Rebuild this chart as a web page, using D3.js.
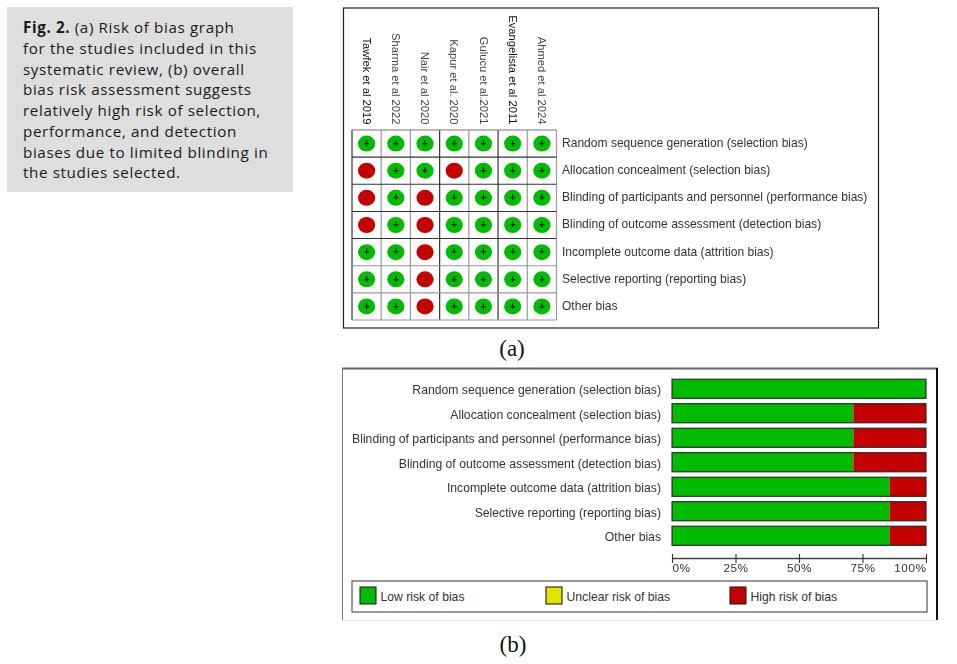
<!DOCTYPE html>
<html><head><meta charset="utf-8">
<script src="https://cdn.jsdelivr.net/npm/d3@7"></script>
<style>
html,body{margin:0;padding:0;background:#fff}
svg{display:block}
text{font-family:"Liberation Sans",Arial,sans-serif;fill:#333}
.cap text{font-family:"Open Sans",sans-serif;fill:#1a1a1a;font-size:15.2px;letter-spacing:0.62px}
.soft{filter:blur(0.3px)}
</style></head><body>
<svg id="c" width="957" height="664"></svg>
<script>
const studies=["Tawfek et al 2019","Sharma et al 2022","Nair et al 2020","Kapur et al. 2020","Gulucu et al.2021","Evangelista et al 2011","Ahmed et al 2024"];
const domains=["Random sequence generation (selection bias)","Allocation concealment (selection bias)","Blinding of participants and personnel (performance bias)","Blinding of outcome assessment (detection bias)","Incomplete outcome data (attrition bias)","Selective reporting (reporting bias)","Other bias"];
const judgementsTawfek=["+","-","-","-","+","+","+"];
const judgementsSharma=["+","+","+","+","+","+","+"];
const judgementsNair=["+","+","-","-","-","-","-"];
const judgementsKapur=["+","-","+","+","+","+","+"];
const judgementsGulucu=["+","+","+","+","+","+","+"];
const judgementsEvangelista=["+","+","+","+","+","+","+"];
const judgementsAhmed=["+","+","+","+","+","+","+"];
const judgements=[judgementsTawfek,judgementsSharma,judgementsNair,judgementsKapur,judgementsGulucu,judgementsEvangelista,judgementsAhmed];
const lowPct=[100,71.4,71.4,71.4,85.7,85.7,85.7];
const unclearPct=[0,0,0,0,0,0,0];
const highPct=[0,28.6,28.6,28.6,14.3,14.3,14.3];
const tickValues=[0,25,50,75,100];
const legendLabels=["Low risk of bias","Unclear risk of bias","High risk of bias"];
const captionLines=["(a) Risk of bias graph","for the studies included in this","systematic review, (b) overall","bias risk assessment suggests","relatively high risk of selection,","performance, and detection","biases due to limited blinding in","the studies selected."];
const GREEN="#00bb00",RED="#c40000",YEL="#e3e300";

const svg=d3.select("#c");
// caption
const cap=svg.append("g").attr("class","cap");
cap.append("rect").attr("x",7).attr("y",7).attr("width",286).attr("height",185).attr("fill","#dedede");
captionLines.forEach((t,i)=>{
  const el=cap.append("text").attr("x",23).attr("y",33+i*20.75);
  if(i===0){el.append("tspan").attr("font-weight","700").text("Fig. 2. ");}
  el.append("tspan").text(t);
});
// panel a
svg.append("rect").attr("x",343.5).attr("y",8).attr("width",535).attr("height",320).attr("fill","#fff").attr("stroke","#222").attr("stroke-width",1.2);
const xa=d3.scaleBand().domain(studies).range([352,556.5]);
const ya=d3.scaleBand().domain(domains).range([130,320]);
const a=svg.append("g").attr("class","soft");
const darkV=new Set([0,3,5]);
studies.concat(["end"]).forEach((s,i)=>{
  const x=i<7?xa(s):xa.range()[1];
  a.append("line").attr("x1",x).attr("x2",x).attr("y1",130).attr("y2",320)
   .attr("stroke",darkV.has(i)?"#333":"#999").attr("stroke-width",1.2);
});
domains.concat(["end"]).forEach((d,i)=>{
  const y=i<7?ya(d):ya.range()[1];
  a.append("line").attr("x1",352).attr("x2",556.5).attr("y1",y).attr("y2",y)
   .attr("stroke",(i>=1&&i<=4)?"#333":(i===0?"#777":"#999")).attr("stroke-width",1.1);
});
studies.forEach((s,i)=>{
  a.append("text").attr("transform",`translate(${xa(s)+xa.bandwidth()/2-3.8},124.5) rotate(90)`)
   .attr("text-anchor","end").attr("font-size",11.2).style("fill",i===0||i===5?"#111":"#444").text(s);
  judgements[i].forEach((j,r)=>{
    const cx=xa(s)+xa.bandwidth()/2, cy=ya(domains[r])+ya.bandwidth()/2;
    a.append("ellipse").attr("cx",cx).attr("cy",cy).attr("rx",8.6).attr("ry",8).attr("fill",j==="+"?GREEN:RED);
    if(j==="+"){
      a.append("text").attr("x",cx).attr("y",cy+3.3).attr("text-anchor","middle").attr("font-size",10).attr("font-weight",700).style("fill","#0a1a0a").text("+");
    }else{
      a.append("text").attr("x",cx).attr("y",cy+3.6).attr("text-anchor","middle").attr("font-size",11).style("fill","#500").text("-");
    }
  });
});
domains.forEach(d=>{
  a.append("text").attr("x",562).attr("y",ya(d)+ya.bandwidth()/2+3.4).attr("font-size",12.05).text(d);
});
const serif='"Liberation Serif",serif';
svg.append("text").attr("x",512).attr("y",356).attr("text-anchor","middle").style("font-family",serif).attr("font-size",23).style("fill","#111").text("(a)");
svg.append("text").attr("x",513).attr("y",652).attr("text-anchor","middle").style("font-family",serif).attr("font-size",23).style("fill","#111").text("(b)");

// panel b
const bf=svg.append("g").attr("class","soft");
bf.append("line").attr("x1",342).attr("x2",938).attr("y1",368.5).attr("y2",368.5).attr("stroke","#666").attr("stroke-width",2);
bf.append("line").attr("x1",342.5).attr("x2",342.5).attr("y1",368).attr("y2",620).attr("stroke","#777");
bf.append("line").attr("x1",937).attr("x2",937).attr("y1",368).attr("y2",620).attr("stroke","#111").attr("stroke-width",2);
bf.append("line").attr("x1",342).attr("x2",936).attr("y1",620.5).attr("y2",620.5).attr("stroke","#e4e4e4");
const xb=d3.scaleLinear().domain([0,100]).range([672,926]);
const yb=d3.scaleBand().domain(domains).range([376.5,548]).paddingInner(0.22).paddingOuter(0.11);
domains.forEach((d,i)=>{
  const y=yb(d),h=yb.bandwidth();
  bf.append("rect").attr("x",xb(0)).attr("y",y).attr("width",xb(lowPct[i])-xb(0)).attr("height",h).attr("fill",GREEN);
  if(unclearPct[i]>0) bf.append("rect").attr("x",xb(lowPct[i])).attr("y",y).attr("width",xb(unclearPct[i])-xb(0)).attr("height",h).attr("fill",YEL);
  if(highPct[i]>0) bf.append("rect").attr("x",xb(100-highPct[i])).attr("y",y).attr("width",xb(highPct[i])-xb(0)).attr("height",h).attr("fill",RED);
  bf.append("rect").attr("x",xb(0)).attr("y",y).attr("width",xb(100)-xb(0)).attr("height",h).attr("fill","none").attr("stroke","#222").attr("stroke-width",1.1);
  bf.append("text").attr("x",661).attr("y",y+h/2+5.7).attr("text-anchor","end").attr("font-size",12.2).text(d);
});
const axis=d3.axisBottom(xb).tickValues(tickValues).tickFormat(d=>d+"%").tickSize(0);
const ag=bf.append("g").attr("transform","translate(0,558)").call(axis);
ag.select(".domain").attr("stroke","#444").attr("stroke-width",1.4);
ag.selectAll(".tick line").attr("y1",-4).attr("y2",5).attr("stroke","#333").attr("stroke-width",1.1);
ag.selectAll(".tick text").attr("y",6).attr("font-size",11.8).attr("font-family",null).style("fill","#333").style("letter-spacing","0.5px")
  .attr("text-anchor",d=>d===0?"start":d===100?"end":"middle");
// legend
bf.append("rect").attr("x",352).attr("y",581).attr("width",575).attr("height",31).attr("fill","#fff").attr("stroke","#444").attr("stroke-width",1.1);
const legendX=d3.scaleOrdinal().domain(legendLabels).range([360,546,730]);
const legendC=d3.scaleOrdinal().domain(legendLabels).range([GREEN,YEL,RED]);
legendLabels.forEach(l=>{
  bf.append("rect").attr("x",legendX(l)).attr("y",587).attr("width",16).attr("height",17).attr("fill",legendC(l)).attr("stroke","#222").attr("stroke-width",1.1);
  bf.append("text").attr("x",legendX(l)+20.5).attr("y",600.5).attr("font-size",12.2).text(l);
});
</script>
</body></html>
